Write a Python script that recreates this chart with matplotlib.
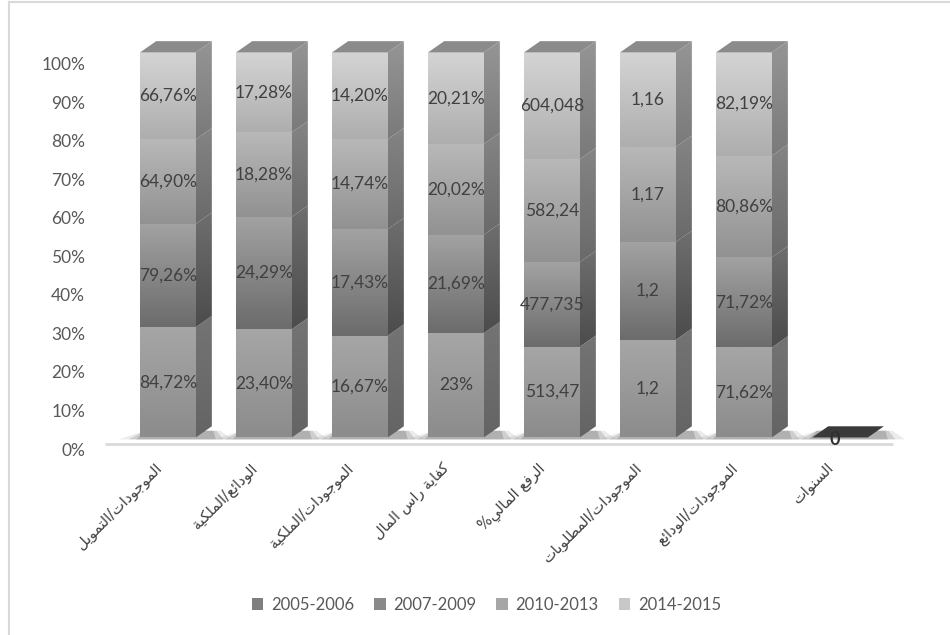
import numpy as np
import matplotlib
matplotlib.use("Agg")
import matplotlib.pyplot as plt
from matplotlib.colors import LinearSegmentedColormap
from matplotlib.patches import Polygon, Patch
from matplotlib.lines import Line2D

# categories (Arabic, logical order)
categories = ["الموجودات/التمويل", "الودائع/الملكية", "الموجودات/الملكية",
              "كفاية راس المال", "الرفع المالي%", "الموجودات/المطلوبات",
              "الموجودات/الودائع", "السنوات"]

series_names = ["2005-2006", "2007-2009", "2010-2013", "2014-2015"]

# values as printed on the bars (comma decimals)
s2005 = ["84,72%", "23,40%", "16,67%", "23%", "513,47", "1,2", "71,62%", "0"]
s2007 = ["79,26%", "24,29%", "17,43%", "21,69%", "477,735", "1,2", "71,72%", "0"]
s2010 = ["64,90%", "18,28%", "14,74%", "20,02%", "582,24", "1,17", "80,86%", "0"]
s2014 = ["66,76%", "17,28%", "14,20%", "20,21%", "604,048", "1,16", "82,19%", "0"]
series = [s2005, s2007, s2010, s2014]

# front-face gradient (bottom, top), side colour (bottom, top), legend colour
front_cols = [("#8c8c8c", "#a6a6a6"), ("#6c6c6c", "#a2a2a2"),
              ("#929292", "#b8b8b8"), ("#aeaeae", "#d4d4d4")]
side_cols = [("#646464", "#747474"), ("#4c4c4c", "#6e6e6e"),
             ("#6a6a6a", "#848484"), ("#7a7a7a", "#959595")]
legend_cols = ["#7f7f7f", "#8a8a8a", "#a6a6a6", "#c8c8c8"]


def parse(s):
    return float(s.rstrip("%").replace(",", "."))


# --- minimal Arabic shaping (matplotlib has no bidi/shaping) ---
FORMS = {
    "ا": ("\uFE8D", "\uFE8E", None, None),
    "ب": ("\uFE8F", "\uFE90", "\uFE91", "\uFE92"),
    "ة": ("\uFE93", "\uFE94", None, None),
    "ت": ("\uFE95", "\uFE96", "\uFE97", "\uFE98"),
    "ج": ("\uFE9D", "\uFE9E", "\uFE9F", "\uFEA0"),
    "د": ("\uFEA9", "\uFEAA", None, None),
    "ر": ("\uFEAD", "\uFEAE", None, None),
    "س": ("\uFEB1", "\uFEB2", "\uFEB3", "\uFEB4"),
    "ط": ("\uFEC1", "\uFEC2", "\uFEC3", "\uFEC4"),
    "ع": ("\uFEC9", "\uFECA", "\uFECB", "\uFECC"),
    "ف": ("\uFED1", "\uFED2", "\uFED3", "\uFED4"),
    "ك": ("\uFED9", "\uFEDA", "\uFEDB", "\uFEDC"),
    "ل": ("\uFEDD", "\uFEDE", "\uFEDF", "\uFEE0"),
    "م": ("\uFEE1", "\uFEE2", "\uFEE3", "\uFEE4"),
    "ن": ("\uFEE5", "\uFEE6", "\uFEE7", "\uFEE8"),
    "و": ("\uFEED", "\uFEEE", None, None),
    "ي": ("\uFEF1", "\uFEF2", "\uFEF3", "\uFEF4"),
    "ئ": ("\uFE89", "\uFE8A", "\uFE8B", "\uFE8C"),
}


def shape(text):
    chars = list(text)
    out = []
    i = 0
    while i < len(chars):
        c = chars[i]
        prev = chars[i - 1] if i > 0 else None
        nxt = chars[i + 1] if i + 1 < len(chars) else None
        joins_prev = prev in FORMS and FORMS[prev][2] is not None
        if c not in FORMS:
            out.append(c)
            i += 1
            continue
        if c == "ل" and nxt == "ا":
            out.append("\uFEFC" if joins_prev else "\uFEFB")
            i += 2
            continue
        iso, fin, ini, med = FORMS[c]
        joins_next = nxt in FORMS and ini is not None
        if joins_prev and joins_next:
            out.append(med)
        elif joins_prev:
            out.append(fin)
        elif joins_next:
            out.append(ini)
        else:
            out.append(iso)
        i += 1
    return "".join(reversed(out))


values = np.array([[parse(s) for s in ser] for ser in series])
totals = values.sum(axis=0)
shares = np.divide(values, totals, out=np.zeros_like(values), where=totals > 0) * 100

fig = plt.figure(figsize=(9.5, 6.35), dpi=100)
ax = fig.add_axes([95 / 950, 1 - 470 / 635, 810 / 950, 440 / 635])
ax.set_xlim(-0.76, 7.677)
ax.set_ylim(-5.45, 108.8)

num_font = "Lato"
text_col = "#404040"

width = 0.58      # front face width
dx, dy = 0.167, 2.9   # depth offset
lift = 3.0        # front face sits a little above the axis baseline

x = np.arange(len(categories))

# floor edge
ax.plot([-0.66, 7.55], [1.2, 1.2], color="#dadada", lw=2, zorder=1,
        solid_capstyle="butt")

grad = np.linspace(0, 1, 64).reshape(-1, 1)

for i in x:
    x0, x1 = i - width / 2, i + width / 2
    # soft floor shadow, darker close to the bar
    for grow, alpha in [(0.22, 0.15), (0.12, 0.25), (0.04, 0.35)]:
        sh = Polygon([(x0 - grow, lift - 0.5), (x1 + dx + grow, lift - 0.5),
                      (x1 + dx + grow * 0.4, lift + dy * 0.6),
                      (x0 + dx * 0.3, lift + dy * 0.6)],
                     closed=True, facecolor="#7a7a7a", edgecolor="none",
                     alpha=alpha, zorder=1.5)
        ax.add_patch(sh)

    bottom = lift
    for k in range(len(series)):
        h = shares[k, i]
        y0, y1 = bottom, bottom + h
        if h > 0:
            cmap = LinearSegmentedColormap.from_list("f", list(front_cols[k]))
            ax.imshow(grad, cmap=cmap, extent=(x0, x1, y0, y1), origin="lower",
                      aspect="auto", interpolation="bilinear", zorder=2)
            scmap = LinearSegmentedColormap.from_list("s", list(side_cols[k]))
            side = Polygon([(x1, y0), (x1 + dx, y0 + dy), (x1 + dx, y1 + dy), (x1, y1)],
                           closed=True, facecolor="none", edgecolor="none")
            ax.add_patch(side)
            im = ax.imshow(grad, cmap=scmap, extent=(x1, x1 + dx, y0, y1 + dy),
                           origin="lower", aspect="auto", interpolation="bilinear",
                           zorder=2)
            im.set_clip_path(side)
            ax.text(i, (y0 + y1) / 2, series[k][i], ha="center", va="center",
                    fontsize=12.5, family=num_font, color=text_col, zorder=5)
        bottom = y1

    top_col = "#8b8b8b" if totals[i] > 0 else "#3a3a3a"
    top = Polygon([(x0, bottom), (x1, bottom), (x1 + dx, bottom + dy), (x0 + dx, bottom + dy)],
                  closed=True, facecolor=top_col, edgecolor="none", zorder=3)
    ax.add_patch(top)
    if totals[i] == 0:
        ax.text(i - 0.05, lift - 0.6, series[0][i], ha="center", va="center",
                fontsize=13, family=num_font, color="#303030", zorder=5,
                fontweight="bold")

    # category label, rotated
    ax.text(i - 0.15, -3.0, shape(categories[i]), rotation=45, rotation_mode="anchor",
            ha="right", va="top", fontsize=10.5, family="DejaVu Sans",
            color=text_col, clip_on=False)

ax.set_yticks(np.arange(0, 101, 10))
ax.set_yticklabels([f"{v}%" for v in range(0, 101, 10)], family=num_font,
                   fontsize=12.5, color="#595959")
ax.set_xticks([])
ax.tick_params(axis="y", length=0, pad=7)
for sp in ax.spines.values():
    sp.set_visible(False)

handles = [Patch(facecolor=c, edgecolor="none") for c in legend_cols]
leg = fig.legend(handles, series_names, ncol=4, loc="center",
                 bbox_to_anchor=(0.512, 0.047), frameon=False,
                 handlelength=0.7, handleheight=0.7, handletextpad=0.45,
                 columnspacing=1.2, prop={"family": num_font, "size": 12})
for t in leg.get_texts():
    t.set_color("#595959")

# chart frame (top and left edges)
fig.add_artist(Line2D([8.5 / 950, 8.5 / 950], [0, 1 - 1.5 / 635],
                      transform=fig.transFigure, color="#d9d9d9", lw=1.5))
fig.add_artist(Line2D([8.5 / 950, 1], [1 - 1.5 / 635, 1 - 1.5 / 635],
                      transform=fig.transFigure, color="#d9d9d9", lw=1.5))

fig.savefig("out.png", dpi=100)
